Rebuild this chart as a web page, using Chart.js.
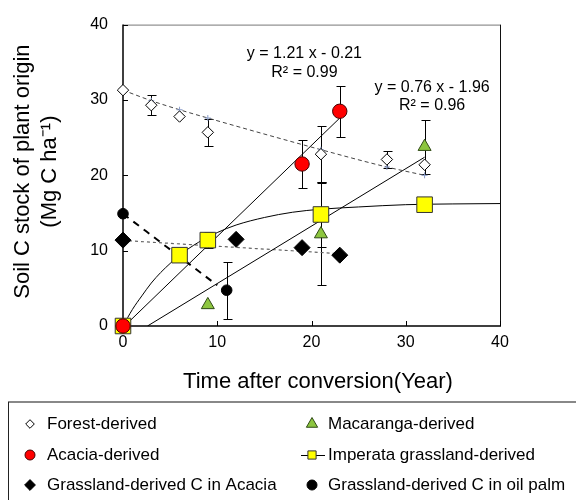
<!DOCTYPE html>
<html>
<head>
<meta charset="utf-8">
<script src="https://cdn.jsdelivr.net/npm/chart.js@4/dist/chart.umd.min.js"></script>
<style>
  body { margin: 0; background: #fff; }
  #wrap { width: 576px; height: 500px; }
</style>
</head>
<body>
<div id="wrap"><canvas id="myChart"></canvas></div>
<script>
const FONT = "'Liberation Sans', Arial, sans-serif";

// measured points (year after conversion, Mg C/ha) with error bars
const forestX = [0, 3, 6, 9, 21, 28, 32];
const forestY = [31.3, 29.3, 27.8, 25.7, 22.8, 22.1, 21.4];
const forestErr = [null, 1.3, null, 1.8, 3.7, 1.1, null];
const forestFitY = [31.3, 29.9, 28.7, 27.6, 23.4, 21.1, 20.0];

const acaciaX = [0, 19, 23];
const acaciaY = [0, 21.5, 28.5];
const acaciaErr = [null, 3.2, 3.4];
const acaciaFitX = [0, 23];
const acaciaFitY = [-0.2, 27.6];

const macarangaX = [9, 21, 32];
const macarangaY = [2.8, 12.2, 23.8];
const macarangaErr = [null, 6.8, 3.6];
const macarangaFitX = [2.6, 32];
const macarangaFitY = [0, 22.4];

const imperataX = [0, 6, 9, 21, 32];
const imperataY = [0, 9.4, 11.4, 14.8, 16.1];
const imperataErr = [null, null, 1.1, 4.3, null];
const imperataCurveX = [0, 1, 2, 3, 4, 5, 6, 8, 10, 12, 15, 18, 21, 25, 30, 35, 40];
const imperataCurveY = [0, 2.2, 4.0, 5.7, 7.1, 8.3, 9.4, 11.1, 12.4, 13.4, 14.4, 15.1, 15.5, 15.8, 16.1, 16.2, 16.25];

const grassAcaciaX = [0, 12, 19, 23];
const grassAcaciaY = [11.4, 11.5, 10.4, 9.4];
const grassAcaciaFitX = [0, 23];
const grassAcaciaFitY = [11.35, 9.6];

const oilPalmX = [0, 11];
const oilPalmY = [14.9, 4.75];
const oilPalmErr = [null, 3.8];
const oilPalmFitX = [0, 10];
const oilPalmFitY = [14.9, 5.4];

const axisTicks = [0, 10, 20, 30, 40];
const xTitle = "Time after conversion(Year)";
const yTitle = ["Soil C stock of plant origin", "(Mg C ha⁻¹)"];
const equations = [
  ["y = 1.21 x - 0.21", "R² = 0.99"],
  ["y = 0.76 x - 1.96", "R² = 0.96"],
];

const pts = (xs, ys) => xs.map((x, i) => ({ x: x, y: ys[i] }));

function markers(label, xs, ys, errs, style, radius, fill, stroke) {
  return {
    label: label,
    data: pts(xs, ys),
    errors: errs,
    showLine: false,
    clip: false,
    pointStyle: style,
    pointRadius: radius,
    pointBackgroundColor: fill,
    pointBorderColor: stroke,
    pointBorderWidth: 1,
  };
}

function fitLine(xs, ys, color, width, dash, extra) {
  return Object.assign({
    label: "",
    data: pts(xs, ys),
    showLine: true,
    pointRadius: 0,
    borderColor: color,
    borderWidth: width,
    borderDash: dash,
    cubicInterpolationMode: "monotone",
  }, extra || {});
}

const datasets = [
  markers("Forest-derived", forestX, forestY, forestErr, "rectRot", 5.7, "#fff", "#000"),
  markers("Acacia-derived", acaciaX, acaciaY, acaciaErr, "circle", 7.2, "#ff0000", "#400"),
  markers("Grassland-derived C in Acacia", grassAcaciaX, grassAcaciaY, null, "rectRot", 8, "#000", "#000"),
  markers("Macaranga-derived", macarangaX, macarangaY, macarangaErr, "triangle", 7.5, "#8dc63f", "#2f4a15"),
  markers("Imperata grassland-derived", imperataX, imperataY, imperataErr, "rect", 11, "#ffff00", "#333"),
  markers("Grassland-derived C in oil palm", oilPalmX, oilPalmY, oilPalmErr, "circle", 5.3, "#000", "#000"),
  fitLine(forestX, forestFitY, "#444", 1, [4, 3], {
    pointStyle: "cross", pointRadius: 3, pointBorderColor: "#8a9cc8", pointBorderWidth: 1,
  }),
  fitLine(acaciaFitX, acaciaFitY, "#000", 1, []),
  fitLine(macarangaFitX, macarangaFitY, "#000", 1, []),
  fitLine(imperataCurveX, imperataCurveY, "#000", 1, []),
  fitLine(grassAcaciaFitX, grassAcaciaFitY, "#666", 1.2, [3, 3]),
  fitLine(oilPalmFitX, oilPalmFitY, "#000", 2, [7, 6]),
];

// vertical error bars, drawn behind the markers
const errorBars = {
  id: "errorBars",
  beforeDatasetsDraw(chart) {
    const { ctx, scales } = chart;
    ctx.save();
    ctx.strokeStyle = "#000";
    ctx.lineWidth = 1;
    chart.data.datasets.forEach((d) => {
      if (!d.errors) return;
      d.data.forEach((p, i) => {
        const e = d.errors[i];
        if (e == null) return;
        const px = Math.round(scales.x.getPixelForValue(p.x)) + 0.5;
        const top = Math.round(scales.y.getPixelForValue(p.y + e)) + 0.5;
        const bot = Math.round(scales.y.getPixelForValue(p.y - e)) + 0.5;
        ctx.beginPath();
        ctx.moveTo(px, top); ctx.lineTo(px, bot);
        ctx.moveTo(px - 4, top); ctx.lineTo(px + 5, top);
        ctx.moveTo(px - 4, bot); ctx.lineTo(px + 5, bot);
        ctx.stroke();
      });
    });
    ctx.restore();
  },
};

// plot frame with inward tick marks, axis titles and fit equations
const frame = {
  id: "frame",
  beforeDatasetsDraw(chart) {
    const { ctx, chartArea: a, scales } = chart;
    ctx.save();
    ctx.lineWidth = 1;
    ctx.strokeStyle = "#777";
    ctx.beginPath(); ctx.moveTo(a.left, a.top + 0.5); ctx.lineTo(a.right, a.top + 0.5); ctx.stroke();
    ctx.strokeStyle = "#111";
    ctx.beginPath(); ctx.moveTo(a.right + 0.5, a.top); ctx.lineTo(a.right + 0.5, a.bottom); ctx.stroke();
    ctx.lineWidth = 1.5;
    ctx.strokeStyle = "#000";
    ctx.beginPath();
    ctx.moveTo(a.left, a.top); ctx.lineTo(a.left, a.bottom); ctx.lineTo(a.right + 1, a.bottom);
    ctx.stroke();
    ctx.lineWidth = 1;
    ctx.beginPath();
    axisTicks.forEach((v) => {
      const py = Math.round(scales.y.getPixelForValue(v)) + 0.5;
      ctx.moveTo(a.left, py); ctx.lineTo(a.left + 5, py);
      const px = Math.round(scales.x.getPixelForValue(v)) + 0.5;
      ctx.moveTo(px, a.bottom); ctx.lineTo(px, a.bottom - 5);
    });
    ctx.stroke();

    ctx.fillStyle = "#000";
    ctx.font = "22px " + FONT;
    ctx.textAlign = "center";
    ctx.textBaseline = "middle";
    ctx.fillText(xTitle, a.left + 195, a.bottom + 56);
    ctx.translate(23, a.top + 147);
    ctx.rotate(-Math.PI / 2);
    yTitle.forEach((t, j) => ctx.fillText(t, 0, j * 27));
    ctx.restore();
  },
  afterDatasetsDraw(chart) {
    const { ctx, scales } = chart;
    const spots = [[19.25, 36.1], [32.8, 31.7]];
    ctx.save();
    ctx.font = "16px " + FONT;
    ctx.fillStyle = "#000";
    ctx.textAlign = "center";
    ctx.textBaseline = "middle";
    equations.forEach((lines, i) => {
      const px = scales.x.getPixelForValue(spots[i][0]);
      const py = scales.y.getPixelForValue(spots[i][1]);
      lines.forEach((t, j) => ctx.fillText(t, px, py + j * 18.5));
    });
    ctx.restore();
  },
};

// two-column legend in a box under the plot
const legendBox = {
  id: "legendBox",
  afterDraw(chart) {
    const ctx = chart.ctx;
    const draw = Chart.helpers.drawPoint;
    ctx.save();
    ctx.strokeStyle = "#888";
    ctx.lineWidth = 2;
    ctx.beginPath(); ctx.moveTo(8, 402); ctx.lineTo(576, 402); ctx.stroke();
    ctx.strokeStyle = "#222";
    ctx.lineWidth = 1;
    ctx.beginPath(); ctx.moveTo(8.5, 402); ctx.lineTo(8.5, 500); ctx.stroke();

    const sizes = [4.3, 5, 5.4, 6.5, 5.8, 5];
    const rows = [424, 455, 485];
    ctx.font = "17px " + FONT;
    ctx.textBaseline = "middle";
    chart.data.datasets.filter((d) => d.label).forEach((d, i) => {
      const col = i < 3 ? 0 : 1;
      const y = rows[i % 3];
      const mx = col ? 312 : 30;
      if (d.label.startsWith("Imperata")) {
        ctx.strokeStyle = "#000";
        ctx.beginPath(); ctx.moveTo(301, y + 0.5); ctx.lineTo(325, y + 0.5); ctx.stroke();
      }
      ctx.fillStyle = d.pointBackgroundColor;
      ctx.strokeStyle = d.pointBorderColor;
      draw(ctx, { pointStyle: d.pointStyle, radius: sizes[i], rotation: 0, borderWidth: 1 }, mx, y);
      ctx.fillStyle = "#000";
      ctx.fillText(d.label, col ? 328 : 47, y);
    });
    ctx.restore();
  },
};

new Chart(document.querySelector("#myChart"), {
  type: "scatter",
  data: { datasets: datasets },
  options: {
    responsive: true,
    maintainAspectRatio: false,
    animation: false,
    events: [],
    layout: { padding: { left: 0, right: 76, top: 17, bottom: 104 } },
    plugins: { legend: { display: false }, tooltip: { enabled: false } },
    scales: {
      x: {
        type: "linear",
        min: 0,
        max: 40,
        afterFit: (s) => { s.height = 70; },
        afterBuildTicks: (s) => { s.ticks = axisTicks.map((v) => ({ value: v })); },
        grid: { display: false, drawTicks: false },
        border: { display: false },
        ticks: { padding: 7, color: "#000", font: { size: 16, family: FONT } },
      },
      y: {
        type: "linear",
        min: 0,
        max: 40,
        afterFit: (s) => { s.width = 123; },
        afterBuildTicks: (s) => { s.ticks = axisTicks.map((v) => ({ value: v })); },
        grid: { display: false, drawTicks: false },
        border: { display: false },
        ticks: { padding: 15, color: "#000", font: { size: 16, family: FONT } },
      },
    },
  },
  plugins: [errorBars, frame, legendBox],
});
</script>
</body>
</html>
